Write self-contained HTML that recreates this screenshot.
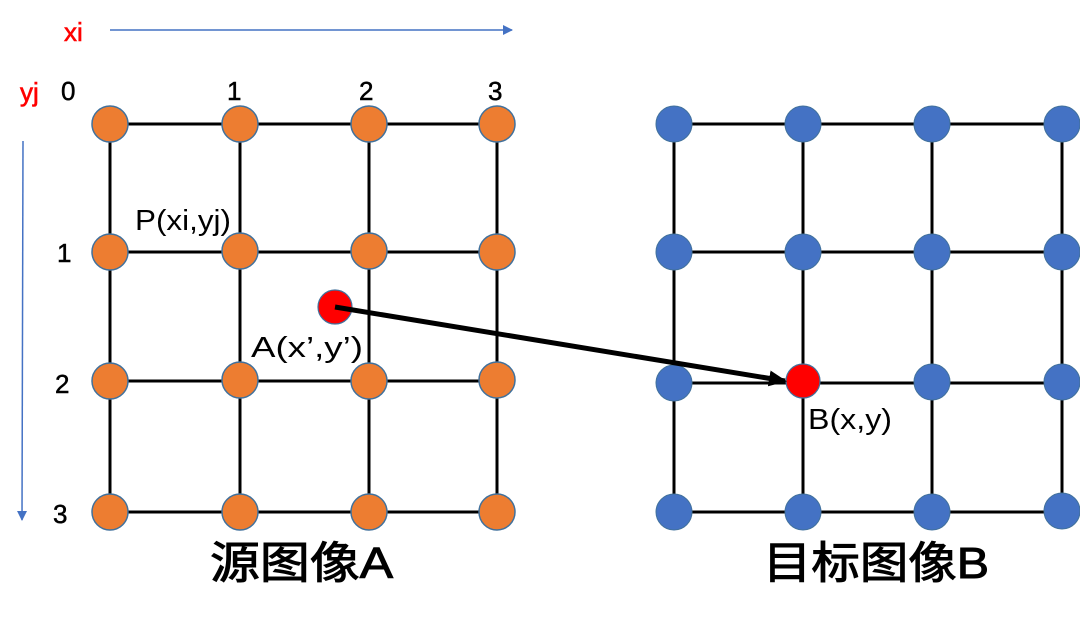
<!DOCTYPE html>
<html><head><meta charset="utf-8"><style>
html,body{margin:0;padding:0;background:#fff;width:1080px;height:624px;overflow:hidden}
</style></head><body>
<svg width="1080" height="624" xmlns="http://www.w3.org/2000/svg" font-family="Liberation Sans, Noto Sans CJK SC, sans-serif">
<defs>
<marker id="ah" markerWidth="10" markerHeight="10" refX="9" refY="5" orient="auto" markerUnits="userSpaceOnUse"><path d="M0,0 L10,5 L0,10z" fill="#4472C4"/></marker>
<marker id="ab" markerWidth="18" markerHeight="16" refX="16" refY="8" orient="auto" markerUnits="userSpaceOnUse"><path d="M0,0 L18,8 L0,16z" fill="#000"/></marker>
</defs>
<line x1="110" y1="30" x2="512" y2="30" stroke="#4472C4" stroke-width="1.5" marker-end="url(#ah)"/>
<line x1="23" y1="141" x2="22" y2="520" stroke="#4472C4" stroke-width="1.5" marker-end="url(#ah)"/>
<text x="64" y="41" fill="#f00" font-size="26" stroke="#f00" stroke-width="0.6">xi</text>
<text x="20" y="101" fill="#f00" font-size="26" stroke="#f00" stroke-width="0.6">yj</text>
<g font-size="26" fill="#000" stroke="#000" stroke-width="0.5">
<text x="61" y="100">0</text><text x="227" y="100">1</text><text x="359" y="100">2</text><text x="488" y="100">3</text>
<text x="57" y="262">1</text><text x="55" y="393">2</text><text x="53" y="523">3</text>
</g>
<g stroke="#000" stroke-width="3" fill="none">
<path d="M110,124H497M110,252H497M110,381H497M110,512H497M110,124V512M240,124V512M369,124V512M497,124V512"/>
<path d="M674,124H1062M674,252H1062M674,383H1062M674,512H1062M674,124V512M803,124V512M932,124V512M1062,124V512"/>
</g>
<g fill="#ED7D31" stroke="#41719C" stroke-width="1.5">
<circle cx="110" cy="124" r="18"/><circle cx="240" cy="124" r="18"/><circle cx="369" cy="124" r="18"/><circle cx="497" cy="124" r="18"/>
<circle cx="110" cy="252" r="18"/><circle cx="240" cy="251" r="18"/><circle cx="369" cy="251" r="18"/><circle cx="497" cy="252" r="18"/>
<circle cx="110" cy="381" r="18"/><circle cx="240" cy="380" r="18"/><circle cx="369" cy="381" r="18"/><circle cx="497" cy="380" r="18"/>
<circle cx="110" cy="512" r="18"/><circle cx="240" cy="512" r="18"/><circle cx="369" cy="512" r="18"/><circle cx="497" cy="512" r="18"/>
</g>
<g fill="#4472C4" stroke="#41719C" stroke-width="1">
<circle cx="674" cy="124" r="18"/><circle cx="803" cy="124" r="18"/><circle cx="932" cy="124" r="18"/><circle cx="1062" cy="124" r="18"/>
<circle cx="674" cy="252" r="18"/><circle cx="803" cy="252" r="18"/><circle cx="932" cy="252" r="18"/><circle cx="1062" cy="252" r="18"/>
<circle cx="674" cy="383" r="18"/><circle cx="932" cy="382" r="18"/><circle cx="1062" cy="382" r="18"/>
<circle cx="674" cy="512" r="18"/><circle cx="803" cy="512" r="18"/><circle cx="932" cy="512" r="18"/><circle cx="1062" cy="511" r="18"/>
</g>
<circle cx="335" cy="307" r="17" fill="#f00" stroke="#41719C" stroke-width="1.2"/>
<circle cx="803" cy="381" r="17" fill="#f00" stroke="#41719C" stroke-width="1.2"/>
<line x1="335" y1="307" x2="785" y2="381" stroke="#000" stroke-width="5" marker-end="url(#ab)"/>
<g font-size="29" fill="#000">
<text x="135" y="230" textLength="96" lengthAdjust="spacingAndGlyphs">P(xi,yj)</text>
<text x="251" y="357" textLength="112" lengthAdjust="spacingAndGlyphs">A(x’,y’)</text>
<text x="808" y="429" textLength="84" lengthAdjust="spacingAndGlyphs">B(x,y)</text>
</g>
<text x="210" y="578" font-size="44" stroke="#000" stroke-width="1" textLength="183" lengthAdjust="spacingAndGlyphs" fill="#000">源图像A</text>
<text x="763" y="578" font-size="44" stroke="#000" stroke-width="1" textLength="226" lengthAdjust="spacingAndGlyphs" fill="#000">目标图像B</text>
</svg>
</body></html>
